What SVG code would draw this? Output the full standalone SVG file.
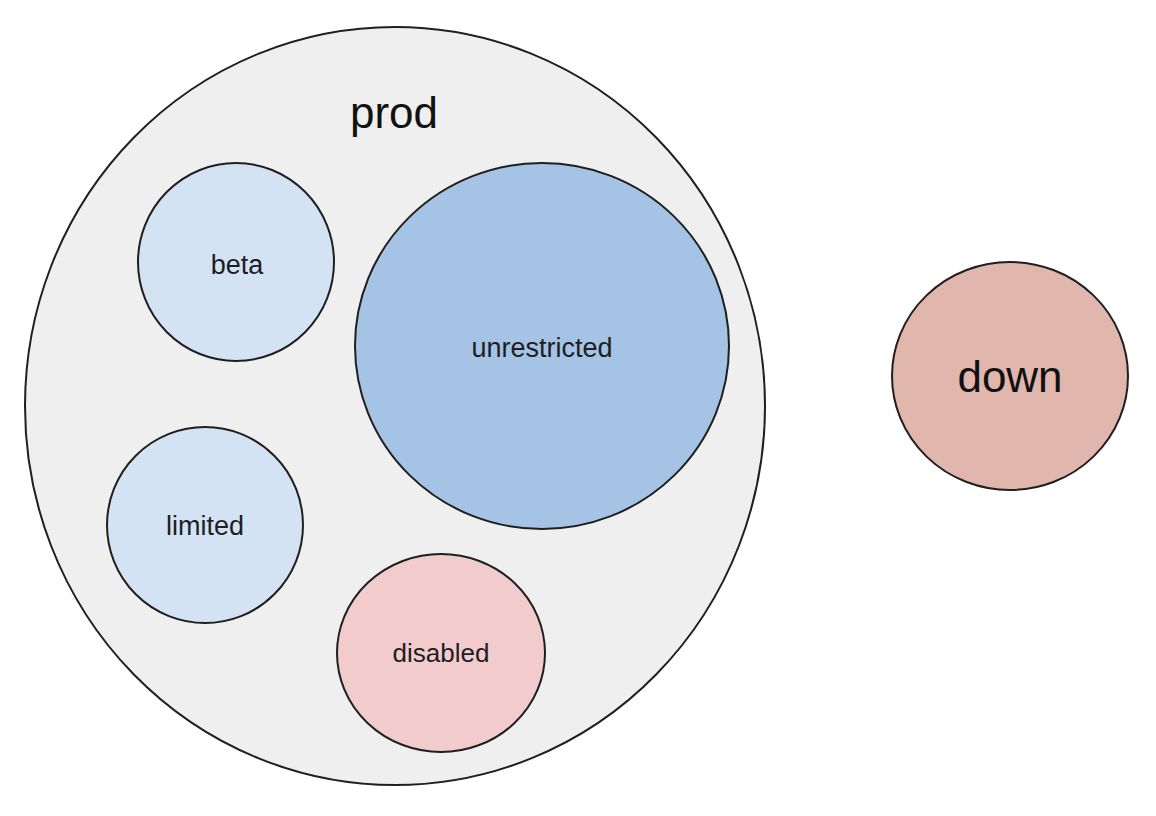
<svg xmlns="http://www.w3.org/2000/svg" width="1156" height="816" viewBox="0 0 1156 816">
<style>
.c{stroke:#1f1f1f;stroke-width:2}
.t{font-family:"Liberation Sans",Arial,sans-serif;fill:#1e1e24;text-anchor:middle}
.s{font-size:27px}
.b{font-size:44px;fill:#111}
</style>
<rect width="1156" height="816" fill="#ffffff"/>
<g id="prod">
<ellipse class="c" cx="395" cy="406" rx="370" ry="379" fill="#efefef"/>
<text class="t b" x="394" y="128">prod</text>
</g>
<g id="beta">
<ellipse class="c" cx="236" cy="262" rx="98" ry="99" fill="#d4e3f4"/>
<text class="t s" x="237" y="274">beta</text>
</g>
<g id="unrestricted">
<ellipse class="c" cx="542" cy="346" rx="187" ry="183" fill="#a4c3e5"/>
<text class="t s" x="542" y="357">unrestricted</text>
</g>
<g id="limited">
<ellipse class="c" cx="205" cy="525" rx="98" ry="98" fill="#d4e3f4"/>
<text class="t s" x="205" y="535">limited</text>
</g>
<g id="disabled">
<ellipse class="c" cx="441" cy="653" rx="104" ry="99" fill="#f2cccc"/>
<text class="t s" x="441" y="662" style="font-size:26px">disabled</text>
</g>
<g id="down">
<ellipse class="c" cx="1010" cy="376" rx="118" ry="114" fill="#e1b6ad"/>
<text class="t b" x="1010" y="392">down</text>
</g>
<g id="connectors"></g>
</svg>
